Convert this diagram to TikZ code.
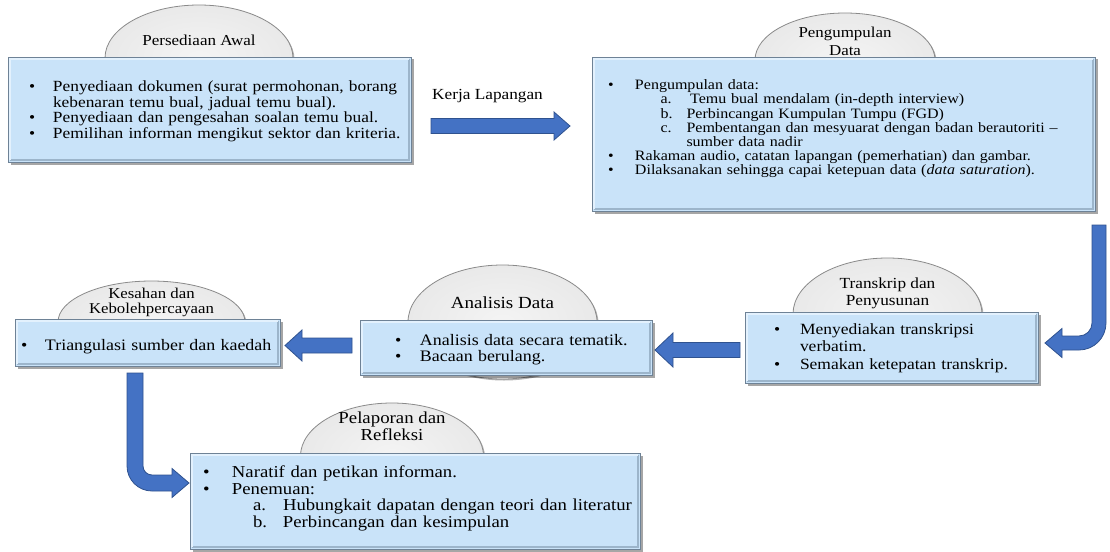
\documentclass[tikz,border=0pt]{standalone}
\usepackage{fontspec}
\setmainfont{Liberation Serif}[FakeStretch=1.12]
\usetikzlibrary{calc,shadows,shapes.geometric}
\definecolor{panelfill}{HTML}{C9E3F9}
\definecolor{panelline}{HTML}{6E8296}
\definecolor{bevL}{HTML}{E3F1FD}
\definecolor{bevD}{HTML}{9CB5CB}
\definecolor{arrfill}{HTML}{4472C4}
\definecolor{arrline}{HTML}{2F528F}
\definecolor{ellin}{HTML}{F4F4F4}
\definecolor{ellmid}{HTML}{E6E6E6}
\definecolor{ellout}{HTML}{B4B4B4}
\definecolor{elline}{HTML}{8A8A8A}
\pgfdeclareradialshading{ellshade}{\pgfpoint{0bp}{0bp}}{color(0bp)=(ellin); color(32bp)=(ellmid); color(50bp)=(ellout)}
\newcommand{\li}[4]{\par\noindent\hangindent=#3pt\hangafter=1\makebox[#3pt][l]{\hspace*{#1pt}#2}#4}
\newcommand{\panel}[5]{%
  \node[panelbox, anchor=north west, minimum width={(#4-#2)*1pt}, minimum height={(#5-#3)*1pt}] (#1) at (#2,#3) {};
  \draw[bevdark] ($(#1.south west)+(1.9,-1.9)$) -- ($(#1.south east)+(-1.9,-1.9)$) -- ($(#1.north east)+(-1.9,1.9)$);
  \draw[bevlight] ($(#1.south west)+(1.9,-1.9)$) -- ($(#1.north west)+(1.9,1.9)$) -- ($(#1.north east)+(-1.9,1.9)$);
}
\begin{document}
\begin{tikzpicture}[x=1pt,y=-1pt,
  panelbox/.style={draw=panelline, line width=0.9pt, fill=panelfill, inner sep=0pt, outer sep=0pt,
    drop shadow={shadow xshift=2.5pt, shadow yshift=-2.5pt, opacity=0.35, fill=black}},
  bevlight/.style={draw=bevL, line width=2.4pt},
  bevdark/.style={draw=bevD, line width=2.4pt},
  bodytext/.style={anchor=north west, inner sep=0pt, outer sep=0pt, align=left},
  ellabel/.style={align=center, inner sep=0pt},
  ellipsebg/.style={ellipse, shade, shading=ellshade, draw=elline, line width=0.8pt, inner sep=0pt,
    drop shadow={shadow xshift=1.5pt, shadow yshift=-1.5pt, opacity=0.3, fill=black}},
  blockarrow/.style={fill=arrfill, draw=arrline, line width=0.8pt, line join=miter}]
\useasboundingbox (0,0) rectangle (1110,551);
\fill[white] (0,0) rectangle (1110,551);

% ellipses (tabs)
\node[ellipsebg, minimum width=188pt, minimum height=106pt] (e1) at (199,58) {};
\node[ellipsebg, minimum width=180pt, minimum height=94pt] (e2) at (845,60) {};
\node[ellipsebg, minimum width=187pt, minimum height=82pt] (e3) at (151.5,322) {};
\node[ellipsebg, minimum width=189pt, minimum height=114pt] (e4) at (502.5,322) {};
\node[ellipsebg, minimum width=189pt, minimum height=112pt] (e5) at (887.5,314) {};
\node[ellipsebg, minimum width=183pt, minimum height=106pt] (e6) at (392,456) {};

% panels
\panel{b1}{8}{57}{411}{162}
\panel{b2}{592}{57}{1095}{211}
\panel{b3}{15}{319}{280}{366}
\panel{b4}{360}{320}{652}{375}
\panel{b5}{745}{312}{1038}{383}
\panel{b6}{190}{453}{640}{549}

% tab labels
\node[ellabel, font=\fontsize{15.2}{18}\selectfont] (l1) at (199,40) {Persediaan Awal};
\node[ellabel, font=\fontsize{15.1}{18.5}\selectfont] (l2) at (845,41.5) {Pengumpulan\\Data};
\node[ellabel, font=\fontsize{15}{15}\selectfont] (l3) at (151.5,302.5) {Kesahan dan\\Kebolehpercayaan};
\node[ellabel, font=\fontsize{17}{18}\selectfont] (l4) at (502.5,302.5) {Analisis Data};
\node[ellabel, font=\fontsize{15.4}{17}\selectfont] (l5) at (887.5,293.5) {Transkrip dan\\Penyusunan};
\node[ellabel, font=\fontsize{16.8}{17}\selectfont] (l6) at (392,426.5) {Pelaporan dan\\Refleksi};

% panel texts
\node[bodytext, text width=380pt, font=\fontsize{15.5}{15.6}\selectfont] (t1) at (27,75.8) {%
\li{2}{•}{26}{\strut Penyediaan dokumen (surat permohonan, borang\newline kebenaran temu bual, jadual temu bual).}
\li{2}{•}{26}{Penyediaan dan pengesahan soalan temu bual.}
\li{2}{•}{26}{Pemilihan informan mengikut sektor dan kriteria.}};

\node[bodytext, text width=480pt, font=\fontsize{14.3}{14.2}\selectfont] (t2) at (606,75.5) {%
\li{2}{•}{29}{\strut Pengumpulan data:}
\li{54.5}{a.}{80.5}{\hspace{0.25em}Temu bual mendalam (in-depth interview)}
\li{54.5}{b.}{80.5}{Perbincangan Kumpulan Tumpu (FGD)}
\li{54.5}{c.}{80.5}{Pembentangan dan mesyuarat dengan badan berautoriti –\newline sumber data nadir}
\li{2}{•}{29}{Rakaman audio, catatan lapangan (pemerhatian) dan gambar.}
\li{2}{•}{29}{Dilaksanakan sehingga capai ketepuan data (\textit{data saturation}).}};

\node[bodytext, text width=258pt, font=\fontsize{16}{16}\selectfont] (t3) at (19,334.3) {%
\li{2}{•}{26}{\strut Triangulasi sumber dan kaedah}};

\node[bodytext, text width=255pt, font=\fontsize{16}{15.5}\selectfont] (t4) at (393,329.6) {%
\li{2}{•}{27}{\strut Analisis data secara tematik.}
\li{2}{•}{27}{Bacaan berulang.}};

\node[bodytext, text width=262pt, font=\fontsize{15.6}{17.5}\selectfont] (t5) at (772,316.5) {%
\li{2}{•}{28}{\strut Menyediakan transkripsi\newline verbatim.}
\li{2}{•}{28}{Semakan ketepatan transkrip.}};

\node[bodytext, text width=438pt, font=\fontsize{16.7}{16.7}\selectfont] (t6) at (201,460.6) {%
\li{2}{•}{31}{\strut Naratif dan petikan informan.}
\li{2}{•}{31}{Penemuan:}
\li{52}{a.}{82}{Hubungkait dapatan dengan teori dan literatur}
\li{52}{b.}{82}{Perbincangan dan kesimpulan}};

% arrow label
\node[anchor=base west, inner sep=0pt, font=\fontsize{15.4}{18}\selectfont] (kl) at (432,99.5) {Kerja Lapangan};

% block arrows
\coordinate (a1s) at (431,126);
\coordinate (a1t) at (570,126);
\draw[blockarrow] ($(a1s)+(0,-7.5)$) -- ($(a1t)+(-16,-7.5)$) -- ($(a1t)+(-16,-14)$) -- (a1t)
  -- ($(a1t)+(-16,14)$) -- ($(a1t)+(-16,7.5)$) -- ($(a1s)+(0,7.5)$) -- cycle;

\coordinate (a2s) at (1099,225);
\coordinate (a2t) at (1045,343);
\draw[blockarrow] ($(a2s)+(-7,0)$) -- ($(a2s)+(7,0)$) -- ($(a2s)+(7,98)$)
  .. controls ($(a2s)+(7,112.9)$) and ($(a2t)+(48.9,7)$) .. ($(a2t)+(34,7)$)
  -- ($(a2t)+(17,7)$) -- ($(a2t)+(17,14.5)$) -- (a2t) -- ($(a2t)+(17,-14.5)$) -- ($(a2t)+(17,-7)$)
  -- ($(a2t)+(34,-7)$) .. controls ($(a2t)+(41.2,-7)$) and ($(a2s)+(-7,105.2)$) .. ($(a2s)+(-7,98)$) -- cycle;

\coordinate (a3s) at (740,350);
\coordinate (a3t) at (655,350);
\draw[blockarrow] ($(a3s)+(0,-7.5)$) -- ($(a3t)+(18,-7.5)$) -- ($(a3t)+(18,-17)$) -- (a3t)
  -- ($(a3t)+(18,17)$) -- ($(a3t)+(18,7.5)$) -- ($(a3s)+(0,7.5)$) -- cycle;

\coordinate (a4s) at (352,345.5);
\coordinate (a4t) at (285,345.5);
\draw[blockarrow] ($(a4s)+(0,-7.5)$) -- ($(a4t)+(17,-7.5)$) -- ($(a4t)+(17,-15.5)$) -- (a4t)
  -- ($(a4t)+(17,15.5)$) -- ($(a4t)+(17,7.5)$) -- ($(a4s)+(0,7.5)$) -- cycle;

\coordinate (a5s) at (135,373);
\coordinate (a5t) at (189,483);
\draw[blockarrow] ($(a5s)+(-8,0)$) -- ($(a5s)+(8,0)$) -- ($(a5s)+(8,93)$)
  .. controls ($(a5s)+(8,98)$) and ($(a5t)+(-42,-8)$) .. ($(a5t)+(-37,-8)$)
  -- ($(a5t)+(-17,-8)$) -- ($(a5t)+(-17,-14.5)$) -- (a5t) -- ($(a5t)+(-17,14.5)$) -- ($(a5t)+(-17,8)$)
  -- ($(a5t)+(-37,8)$) .. controls ($(a5t)+(-50.8,8)$) and ($(a5s)+(-8,106.8)$) .. ($(a5s)+(-8,93)$) -- cycle;
\end{tikzpicture}
\end{document}
